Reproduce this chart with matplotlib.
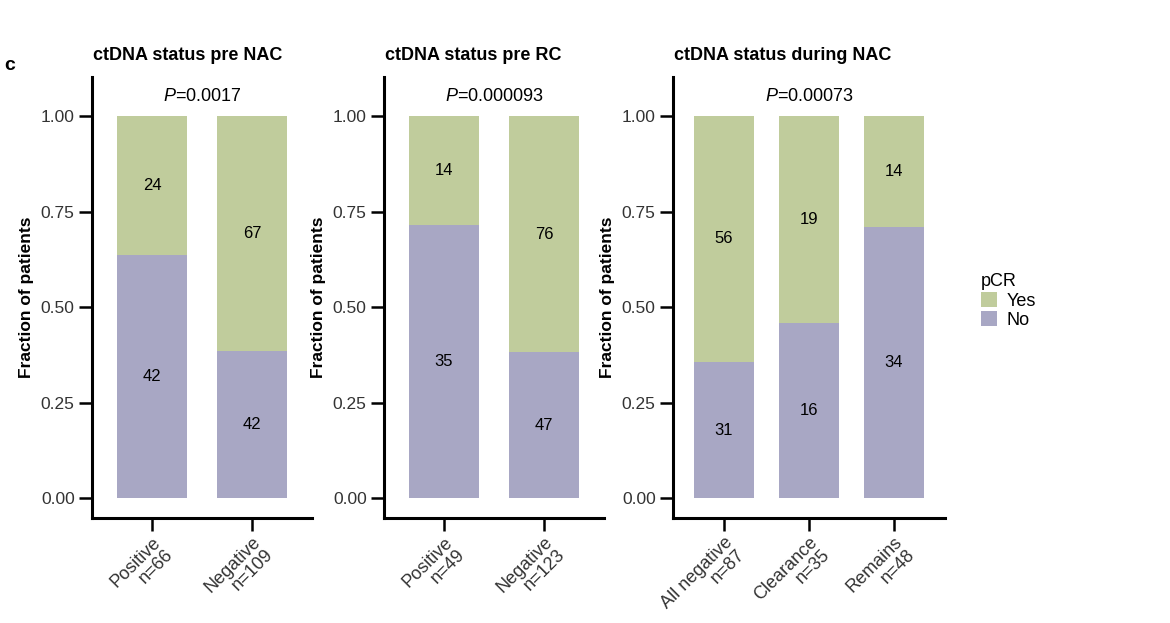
import numpy as np
import matplotlib
matplotlib.use("Agg")
import matplotlib.pyplot as plt
from matplotlib.patches import Patch

plt.rcParams['font.family'] = ['Liberation Sans', 'DejaVu Sans']
plt.rcParams['mathtext.fontset'] = 'custom'
plt.rcParams['mathtext.it'] = 'Liberation Sans:italic'
plt.rcParams['mathtext.rm'] = 'Liberation Sans'

# data
panel_titles = ['ctDNA status pre NAC', 'ctDNA status pre RC', 'ctDNA status during NAC']
p_values = ['0.0017', '0.000093', '0.00073']
categories = [
    ['Positive\nn=66', 'Negative\nn=109'],
    ['Positive\nn=49', 'Negative\nn=123'],
    ['All negative\nn=87', 'Clearance\nn=35', 'Remains\nn=48'],
]
no_counts = [[42, 42], [35, 47], [31, 16, 34]]
yes_counts = [[24, 67], [14, 76], [56, 19, 14]]
yticks = [0.0, 0.25, 0.5, 0.75, 1.0]
ytick_labels = ['0.00', '0.25', '0.50', '0.75', '1.00']

col_yes = '#c0cc9c'
col_no = '#a8a7c4'
txt_col = '#333333'

W, H = 1170, 623
fig = plt.figure(figsize=(11.7, 6.23), dpi=100)

# axes boxes in pixels: left, right
panel_px = [(92, 312), (384, 604), (673, 945)]
top_px, bot_px = 77, 518

for i, (x0, x1) in enumerate(panel_px):
    ax = fig.add_axes([x0 / W, 1 - bot_px / H, (x1 - x0) / W, (bot_px - top_px) / H])
    no = np.array(no_counts[i], dtype=float)
    yes = np.array(yes_counts[i], dtype=float)
    tot = no + yes
    f_no = no / tot
    f_yes = yes / tot
    x = np.arange(len(no))
    ax.bar(x, f_no, width=0.7, color=col_no, linewidth=0)
    ax.bar(x, f_yes, width=0.7, bottom=f_no, color=col_yes, linewidth=0)
    for xi in range(len(x)):
        ax.text(x[xi], f_no[xi] / 2, str(int(no[xi])), ha='center', va='center',
                fontsize=12, color='black')
        ax.text(x[xi], f_no[xi] + f_yes[xi] / 2, str(int(yes[xi])), ha='center',
                va='center', fontsize=12, color='black')

    ax.set_xlim(-0.6, len(x) - 0.4)
    ax.set_ylim(-0.052, 1.102)
    ax.set_yticks(yticks)
    ax.set_yticklabels(ytick_labels, fontsize=12.5, color=txt_col)
    ax.set_xticks(x)
    ax.set_xticklabels(categories[i], fontsize=13, color=txt_col, rotation=45,
                       ha='right', va='top', rotation_mode='anchor',
                       multialignment='right', linespacing=1.0)
    ax.tick_params(axis='both', length=9.5, width=1.8, color='black')
    ax.tick_params(axis='x', pad=2)
    ax.tick_params(axis='y', pad=3)
    for s in ['top', 'right']:
        ax.spines[s].set_visible(False)
    for s in ['left', 'bottom']:
        ax.spines[s].set_linewidth(2.2)

    ax.text((len(x) - 1) / 2, 1.052, r'$\mathit{P}$=' + p_values[i], ha='center',
            va='center', fontsize=13, color='black')
    ax.set_ylabel('Fraction of patients', fontsize=12.5, fontweight='bold', labelpad=5)
    fig.text((x0 + 1) / W, 1 - 55 / H, panel_titles[i], fontsize=13,
             fontweight='bold', ha='left', va='center')

fig.text(4 / W, 1 - 66 / H, 'c', fontsize=14, fontweight='bold', ha='left', va='center')

handles = [Patch(facecolor=col_yes, edgecolor='none', label='Yes'),
           Patch(facecolor=col_no, edgecolor='none', label='No')]
fig.legend(handles=handles, title='pCR', loc='upper left',
           bbox_to_anchor=(972 / W, 1 - 264 / H), frameon=False, fontsize=13,
           title_fontsize=13, alignment='left', borderpad=0, handlelength=0.9,
           handleheight=0.9, labelspacing=0.1, handletextpad=0.5)

fig.savefig('out.png', dpi=100)
